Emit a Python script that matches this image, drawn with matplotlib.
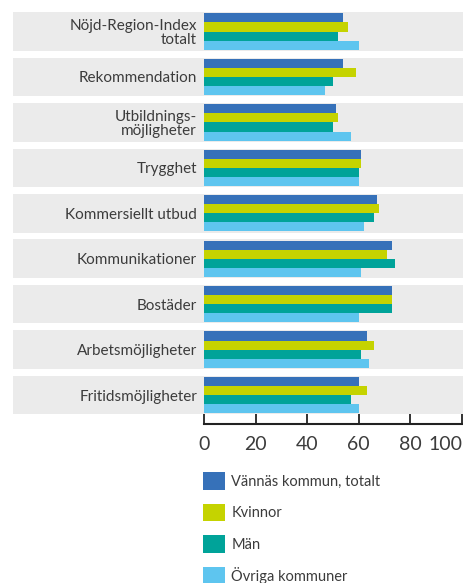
import matplotlib
matplotlib.use("Agg")
import matplotlib.pyplot as plt
from matplotlib.patches import Rectangle
from matplotlib.transforms import blended_transform_factory
import numpy as np

# data
categories = ["Nöjd-Region-Index\ntotalt", "Rekommendation", "Utbildnings-\nmöjligheter",
              "Trygghet", "Kommersiellt utbud", "Kommunikationer", "Bostäder",
              "Arbetsmöjligheter", "Fritidsmöjligheter"]
vannas_totalt = [54, 54, 51, 61, 67, 73, 73, 63, 60]
kvinnor = [56, 59, 52, 61, 68, 71, 73, 66, 63]
man = [52, 50, 50, 60, 66, 74, 73, 61, 57]
ovriga = [60, 47, 57, 60, 62, 61, 60, 64, 60]
series_names = ["Vännäs kommun, totalt", "Kvinnor", "Män", "Övriga kommuner"]
xticks = [0, 20, 40, 60, 80, 100]

colors = ["#3671b9", "#c5d300", "#00a399", "#5ec5ef"]
band_color = "#ebebeb"
text_color = "#3c3c3c"

plt.rcParams['font.family'] = ['Lato', 'DejaVu Sans']

W, H = 463, 583
fig = plt.figure(figsize=(W / 100, H / 100), dpi=100)
ax = fig.add_axes([204 / W, 1 - 424 / H, 258 / W, 412 / H])
ax.patch.set_alpha(0)

y = np.arange(len(categories))
bar_h = 0.2
offsets = [-0.3, -0.1, 0.1, 0.3]
all_series = [vannas_totalt, kvinnor, man, ovriga]

for vals, off, c, name in zip(all_series, offsets, colors, series_names):
    ax.barh(y + off, vals, height=bar_h, color=c, label=name, zorder=3)

# grey bands behind each group, reaching across the label area
trans = blended_transform_factory(fig.transFigure, ax.transData)
for i in y:
    ax.add_patch(Rectangle((13 / W, i - 0.425), (W - 13) / W, 0.85, transform=trans,
                           facecolor=band_color, edgecolor="none", clip_on=False, zorder=0))

ax.set_xlim(0, 100)
ax.set_ylim(len(categories) - 1 + 0.637, -0.43)

ax.set_yticks(y)
ax.set_yticklabels(categories, fontsize=11, color=text_color, linespacing=1.0)
ax.tick_params(axis='y', length=0, pad=5)

ax.set_xticks(xticks)
ax.set_xticklabels([str(t) for t in xticks], fontsize=14, color=text_color)
ax.tick_params(axis='x', direction='in', length=7.5, width=1.3, color='#222222', pad=9)
ax.get_xticklabels()[-1].set_ha('right')

for s in ['top', 'right', 'left']:
    ax.spines[s].set_visible(False)
ax.spines['bottom'].set_linewidth(1.5)
ax.spines['bottom'].set_color('#222222')

leg = ax.legend(loc='upper left', bbox_to_anchor=(203 / W, 1 - 472 / H),
                bbox_transform=fig.transFigure, frameon=False, fontsize=10.5,
                handlelength=1.5, handleheight=1.5, labelspacing=0.95,
                handletextpad=0.45, borderpad=0, borderaxespad=0)
for t in leg.get_texts():
    t.set_color(text_color)

fig.savefig("out.png", dpi=100)
